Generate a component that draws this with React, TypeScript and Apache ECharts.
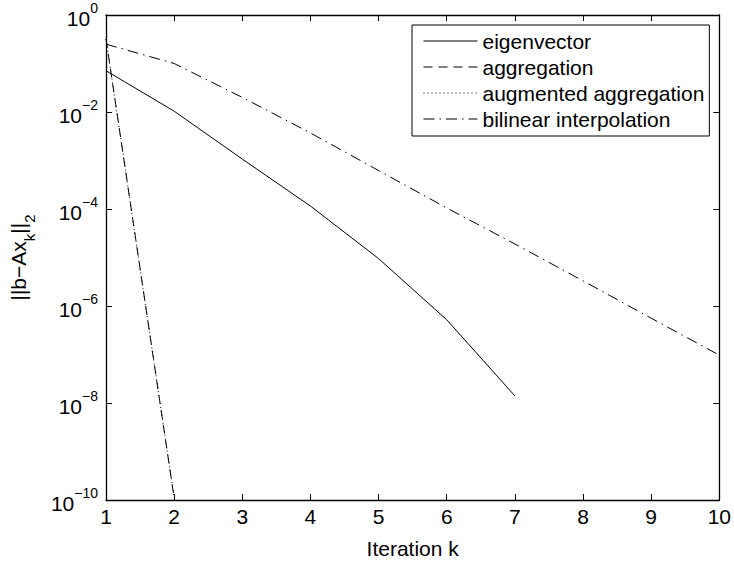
import React, { useEffect, useRef } from "react";
import * as echarts from "echarts";

const iterations = [1, 2, 3, 4, 5, 6, 7, 8, 9, 10];
const eigenvector = [0.071, 0.0104, 1.07e-3, 1.15e-4, 9.5e-6, 5.2e-7, 1.4e-8];
const aggregation = [0.32, 1.1e-10];
const augmentedAggregation = [0.32, 1.1e-10];
const bilinearInterpolation = [0.25, 0.1, 0.02, 3.7e-3, 6.2e-4, 1.05e-4, 1.9e-5, 3.3e-6, 5.6e-7, 9.7e-8];
const seriesNames = ["eigenvector", "aggregation", "augmented aggregation", "bilinear interpolation"];
const xLabel = "Iteration k";

const FONT = "Liberation Sans, Arial, Helvetica, sans-serif";

function pairs(vals: number[]) {
  return vals.map((v, i) => [iterations[i], v]);
}

export default function App() {
  const ref = useRef<HTMLDivElement>(null);
  useEffect(() => {
    if (!ref.current) return;
    const chart = echarts.init(ref.current, undefined, { renderer: "svg" });
    const lineBase = { color: "#000", width: 1 };
    const mkSeries = (name: string, vals: number[], type: any) => ({
      name,
      type: "line",
      data: pairs(vals),
      symbol: "none",
      showSymbol: false,
      xAxisIndex: 0,
      yAxisIndex: 0,
      itemStyle: { color: "#000" },
      lineStyle: { ...lineBase, type },
      emphasis: { disabled: true },
    });
    const tickStyle = { show: true, inside: true, length: 6, lineStyle: { color: "#000", width: 1 } };
    const axisLine = { show: true, onZero: false, lineStyle: { color: "#000", width: 1.3 } };
    chart.setOption({
      animation: false,
      backgroundColor: "#fff",
      grid: { left: 104, top: 15, right: 14, bottom: 61, containLabel: false },
      legend: {
        data: seriesNames,
        orient: "vertical",
        left: 412,
        top: 25,
        itemWidth: 54,
        itemHeight: 14,
        itemGap: 0,
        padding: [3, 5, 4, 11],
        borderColor: "#000",
        borderWidth: 1,
        backgroundColor: "#fff",
        selectedMode: false,
        itemStyle: { opacity: 0, borderWidth: 0 },
        lineStyle: { width: 1 },
        textStyle: { fontSize: 21, lineHeight: 26, color: "#000", fontFamily: FONT },
      },
      xAxis: [
        {
          type: "value",
          min: 1,
          max: 10,
          interval: 1,
          position: "bottom",
          axisLine,
          axisTick: tickStyle,
          splitLine: { show: false },
          axisLabel: { fontSize: 21, color: "#000", fontFamily: FONT, margin: 6 },
          name: xLabel,
          nameLocation: "middle",
          nameGap: 38,
          nameTextStyle: { fontSize: 21, color: "#000", fontFamily: FONT },
        },
        {
          type: "value",
          min: 1,
          max: 10,
          interval: 1,
          position: "top",
          axisLine,
          axisTick: tickStyle,
          splitLine: { show: false },
          axisLabel: { show: false },
        },
      ],
      yAxis: [
        {
          type: "log",
          logBase: 10,
          min: 1e-10,
          max: 1,
          interval: 2,
          position: "left",
          axisLine,
          axisTick: tickStyle,
          minorTick: { show: false },
          splitLine: { show: false },
          axisLabel: {
            margin: 8,
            color: "#000",
            fontFamily: FONT,
            formatter: (v: number) => {
              const e = Math.round(Math.log10(v));
              const s = e < 0 ? "\u2212" + Math.abs(e) : String(e);
              return "{b|10}{s|" + s + "}";
            },
            rich: {
              b: { fontSize: 21, color: "#000", fontFamily: FONT, verticalAlign: "bottom" },
              s: { fontSize: 14, color: "#000", fontFamily: FONT, verticalAlign: "top", padding: [0, 0, 13, 0], lineHeight: 28 },
            },
          },
          name: "{m|||b\u2212Ax}{u|k}{m|||}{u|2}",
          nameLocation: "middle",
          nameRotate: 90,
          nameGap: 64,
          nameTextStyle: {
            color: "#000",
            fontFamily: FONT,
            rich: {
              m: { fontSize: 21, color: "#000", fontFamily: FONT, verticalAlign: "top" },
              u: { fontSize: 15, color: "#000", fontFamily: FONT, verticalAlign: "top", padding: [14, 0, 0, 0], lineHeight: 34 },
            },
          },
        },
        {
          type: "log",
          logBase: 10,
          min: 1e-10,
          max: 1,
          interval: 2,
          position: "right",
          axisLine,
          axisTick: tickStyle,
          minorTick: { show: false },
          splitLine: { show: false },
          axisLabel: { show: false },
        },
      ],
      series: [
        mkSeries(seriesNames[0], eigenvector, "solid"),
        mkSeries(seriesNames[1], aggregation, [9, 6]),
        mkSeries(seriesNames[2], augmentedAggregation, [1, 3]),
        mkSeries(seriesNames[3], bilinearInterpolation, [11, 5, 1.5, 5]),
      ],
    });
    return () => chart.dispose();
  }, []);
  return (
    <div
      ref={ref}
      style={{ position: "fixed", left: 0, top: 0, width: 734, height: 564, background: "#fff" }}
    />
  );
}
